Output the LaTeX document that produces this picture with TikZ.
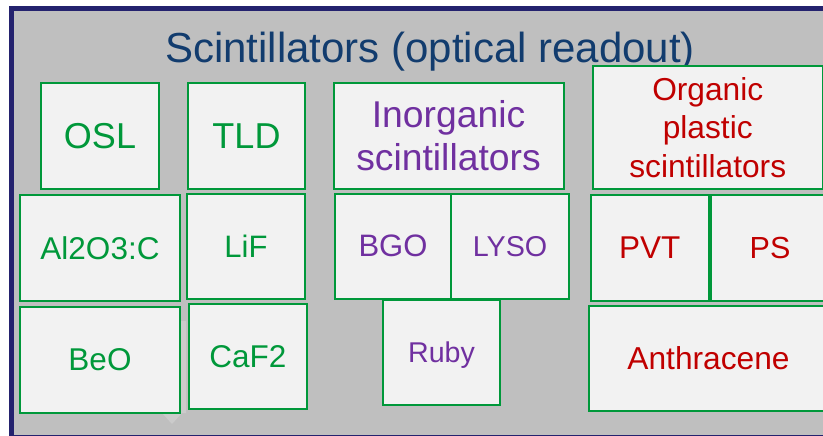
\documentclass[tikz,border=0pt]{standalone}
\usepackage{fontspec}
\setmainfont{Liberation Sans}
\definecolor{panelgray}{RGB}{191,191,191}
\definecolor{framenavy}{RGB}{36,34,110}
\definecolor{titleblue}{RGB}{18,60,110}
\definecolor{boxgreen}{RGB}{0,152,58}
\definecolor{boxfill}{RGB}{242,242,242}
\definecolor{inorgpurple}{RGB}{112,48,160}
\definecolor{orgred}{RGB}{192,0,0}
\definecolor{calloutgray}{RGB}{203,203,203}
\tikzset{
  cell/.style={draw=boxgreen, line width=2pt, fill=boxfill, inner sep=0pt,
    align=center, minimum width=#1},
  cell/.default=118pt,
  tall/.style={minimum height=105.5pt},
  sz/.style={font=\fontsize{#1}{#1}\selectfont},
  greentxt/.style={text=boxgreen},
  purpletxt/.style={text=inorgpurple},
  redtxt/.style={text=orgred}
}
\begin{document}
\begin{tikzpicture}[x=1pt,y=-1pt]
\useasboundingbox (0,0) rectangle (823,436);
\fill[white] (0,0) rectangle (823,436);
% framed panel
\draw[framenavy, line width=5pt, fill=panelgray] (11,8.5) rectangle (845,437.5);
% faint callout shape behind the BeO cell
\fill[calloutgray] (22,321) -- (186,321) -- (186,413) -- (182,413) -- (172,424)
  -- (162,413) -- (22,413) -- cycle;
% title
\node[anchor=base, text=titleblue, font=\fontsize{42}{48}\selectfont] (title) at (430,62.5)
  {Scintillators (optical readout)};
% dosimeter materials
\node[cell=118pt, tall, greentxt, sz=36] (osl) at (100,136) {OSL};
\node[cell=117pt, tall, greentxt, sz=36] (tld) at (246.5,136.25) {TLD};
\node[cell=160pt, tall, greentxt, sz=31.5] (alo) at (100,248) {Al2O3:C};
\node[cell=118pt, tall, greentxt, sz=31] (lif) at (246,246.25) {LiF};
\node[cell=160pt, tall, greentxt, sz=31.5] (beo) at (100,360) {BeO};
\node[cell=118pt, tall, greentxt, sz=31.5] (caf) at (248,356.25) {CaF2};
% inorganic scintillators
\node[cell=230pt, tall, purpletxt, font=\fontsize{37.3}{43.3}\selectfont] (inorg) at (448.5,136)
  {Inorganic\\scintillators};
\node[cell=116pt, tall, purpletxt, sz=31] (bgo) at (393,246.25) {BGO};
\node[cell=118pt, tall, purpletxt, sz=28.7] (lyso) at (510,246.25) {LYSO};
\node[cell=117pt, tall, purpletxt, sz=28.6, text depth=0pt] (ruby) at (441.5,352.25) {Ruby};
% organic plastic scintillators
\node[cell=229.5pt, minimum height=123pt, redtxt, font=\fontsize{31.7}{38.3}\selectfont]
  (org) at (707.75,127.5) {Organic\\plastic\\scintillators};
\node[cell=117.5pt, tall, redtxt, sz=31.5] (pvt) at (649.75,248) {PVT};
\node[cell=118pt, tall, redtxt, sz=30.5] (ps) at (770,248) {PS};
\node[cell=239pt, tall, redtxt, sz=31.7] (anth) at (708.5,358.25) {Anthracene};
\end{tikzpicture}
\end{document}
